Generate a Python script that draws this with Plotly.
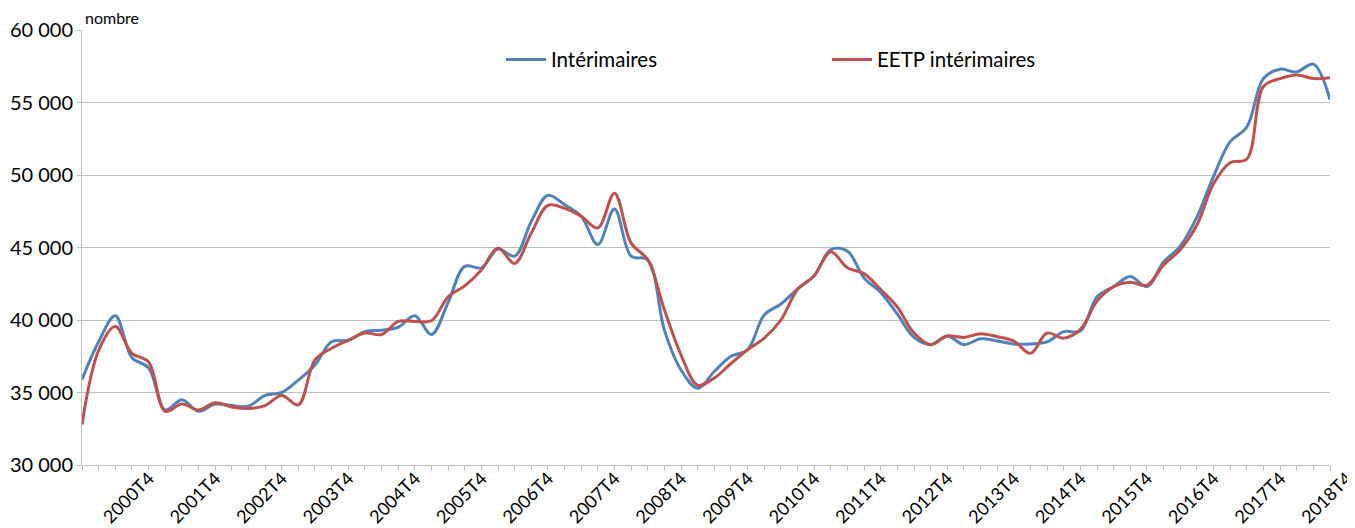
import plotly.graph_objects as go

# Quarters 2000T1 .. 2018T4
years = list(range(2000, 2019))
quarters = [f"{y}T{q}" for y in years for q in (1, 2, 3, 4)]

interimaires = [
    35900, 38500, 40300, 37400, 36700, 33800, 34500, 33700, 34200, 34100,
    34050, 34800, 35000, 35850, 36900, 38500, 38600, 39200, 39300, 39500,
    40300, 39000, 41200, 43700, 43600, 44900, 44400, 46800, 48600, 47950,
    47150, 45200, 47650, 44400, 44150, 39300, 36550, 35300, 36450, 37500,
    37950, 40350, 41100, 42150, 43050, 44850, 44750, 42900, 41900, 40400,
    38800, 38300, 38900, 38300, 38700, 38550, 38350, 38350, 38500, 39200,
    39250, 41600, 42300, 43000, 42300, 44000, 45100, 47100, 49900, 52300,
    53300, 56650, 57300, 57100, 57650, 55200,
]

eetp_interimaires = [
    32800, 37900, 39550, 37700, 37100, 33700, 34200, 33800, 34300, 34000,
    33900, 34100, 34800, 34150, 37250, 38050, 38600, 39100, 39000, 39900,
    39900, 39950, 41600, 42350, 43450, 44950, 43900, 46000, 47900, 47700,
    47150, 46350, 48750, 45300, 44150, 40700, 37600, 35500, 36000, 37000,
    37950, 38750, 40000, 42100, 43050, 44700, 43600, 43200, 42100, 40900,
    39100, 38300, 38900, 38800, 39050, 38850, 38550, 37700, 39100, 38750,
    39350, 41300, 42300, 42600, 42400, 43800, 44850, 46550, 49400, 50850,
    51100, 56100, 56650, 56900, 56650, 56700,
]

series_names = ["Intérimaires", "EETP intérimaires"]
series_colors = ["#4F81BD", "#C0504D"]

y_ticks = [30000, 35000, 40000, 45000, 50000, 55000, 60000]
x_label_quarters = [q for q in quarters if q.endswith("T4")]

idx = list(range(len(quarters)))
x_tickvals = [quarters.index(q) for q in x_label_quarters]

FONT = "Lato"
GRID = "#BFBFBF"

fig = go.Figure()
for name, vals, col in zip(series_names, [interimaires, eetp_interimaires], series_colors):
    fig.add_trace(go.Scatter(
        x=idx, y=vals, name=name, mode="lines",
        line=dict(color=col, width=3, shape="spline", smoothing=1.0),
        customdata=quarters,
        hovertemplate="%{customdata}: %{y}<extra>" + name + "</extra>",
    ))

# The page body has an 8px default margin, so margins are compensated.
fig.update_layout(
    width=1355, height=528,
    margin=dict(l=74, r=33, t=22, b=71),
    paper_bgcolor="white", plot_bgcolor="white",
    separators=", ",
    font=dict(family=FONT, color="#000000", size=18),
    showlegend=True,
    legend=dict(
        orientation="h", x=0.3357, y=0.978, xanchor="left", yanchor="top",
        xref="paper", yref="paper",
        font=dict(family=FONT, size=20.5, color="#000000"),
        entrywidth=271, entrywidthmode="pixels",
        bgcolor="rgba(0,0,0,0)", itemwidth=40,
        tracegroupgap=0,
    ),
    annotations=[dict(
        text="nombre", xref="paper", yref="paper", x=0.0, y=1.0,
        xanchor="left", yanchor="bottom", xshift=1, yshift=1, showarrow=False,
        font=dict(family=FONT, size=16, color="#000000"),
    )],
)

fig.update_xaxes(
    range=[0, len(quarters) - 1],
    automargin=False,
    tickmode="array", tickvals=x_tickvals, ticktext=x_label_quarters,
    tickangle=-45, ticks="outside", ticklen=5, tickcolor=GRID, tickwidth=1,
    tickfont=dict(family=FONT, size=18, color="#000000"),
    ticklabelshift=17, ticklabelstandoff=-10, ticklabeloverflow="allow",
    minor=dict(dtick=1, tick0=0, ticks="outside", ticklen=5, tickcolor=GRID, tickwidth=1, showgrid=False),
    showline=True, linecolor=GRID, linewidth=1,
    showgrid=False, zeroline=False,
)

fig.update_yaxes(
    range=[30000, 60000],
    automargin=False,
    tickmode="array", tickvals=y_ticks,
    tickformat=",d",
    ticks="outside", ticklen=4, tickcolor=GRID,
    tickfont=dict(family=FONT, size=20, color="#000000"),
    showline=True, linecolor=GRID, linewidth=1,
    showgrid=True, gridcolor=GRID, gridwidth=1,
    zeroline=False,
)

fig.write_html("out.html")
